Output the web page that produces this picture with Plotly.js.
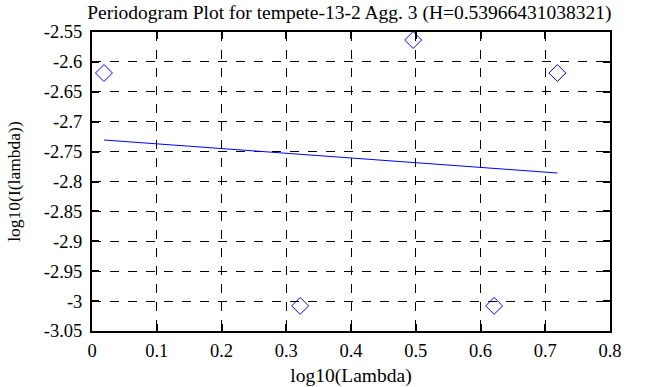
<!DOCTYPE html>
<html><head><meta charset="utf-8">
<script src="https://cdn.plot.ly/plotly-3.0.1.min.js"></script>
<style>html,body{margin:0;padding:0;background:#fff}#c{width:663px;height:387px}</style>
</head><body><div id="c"></div>
<script>
const pointX = [0.0185, 0.3215, 0.496, 0.621, 0.7187];
const pointY = [-2.6186, -3.008, -2.5634, -3.008, -2.6186];
const fitX = [0.0185, 0.7187];
const fitY = [-2.7306, -2.7858];
const xTickVals = [0, 0.1, 0.2, 0.3, 0.4, 0.5, 0.6, 0.7, 0.8];
const xTickText = ["0", "0.1", "0.2", "0.3", "0.4", "0.5", "0.6", "0.7", "0.8"];
const yTickVals = [-3.05, -3, -2.95, -2.9, -2.85, -2.8, -2.75, -2.7, -2.65, -2.6, -2.55];
const yTickText = ["-3.05", "-3", "-2.95", "-2.9", "-2.85", "-2.8", "-2.75", "-2.7", "-2.65", "-2.6", "-2.55"];
const titleText = "Periodogram Plot for tempete-13-2 Agg. 3 (H=0.53966431038321)";

const fam = "Liberation Serif";
function f(size) { return {family: fam, size: size, color: "#000"}; }
const axisCommon = {
  showline: true, linecolor: "#000", linewidth: 2, mirror: "ticks",
  ticks: "inside", ticklen: 7, tickwidth: 2, tickcolor: "#000",
  showgrid: true, gridcolor: "#000", griddash: "dash", gridwidth: 1,
  zeroline: false, tickmode: "array"
};
const data = [
  {x: pointX, y: pointY, mode: "markers", type: "scatter",
   marker: {symbol: "diamond-open", size: 13, color: "#0000ff", line: {width: 1, color: "#0000ff"}}},
  {x: fitX, y: fitY, mode: "lines", type: "scatter", line: {color: "#0000ff", width: 1}}
];
const layout = {
  width: 663, height: 387, showlegend: false,
  paper_bgcolor: "#fff", plot_bgcolor: "#fff",
  margin: {l: 92, r: 53, t: 32, b: 56},
  font: f(18),
  title: {text: titleText, font: f(19.5), x: 0.527, xanchor: "center", y: 0.985, yanchor: "top"},
  xaxis: Object.assign({}, axisCommon, {range: [0, 0.8], tickvals: xTickVals, ticktext: xTickText,
    tickfont: f(18.5), ticklabelstandoff: 2,
    title: {text: "log10(Lambda)", font: f(19.5), standoff: 8}}),
  yaxis: Object.assign({}, axisCommon, {range: [-3.05, -2.55], tickvals: yTickVals, ticktext: yTickText,
    tickfont: f(18.5), ticklabelstandoff: 4,
    title: {text: "log10(I(lambda))", font: f(17.5), standoff: 19}})
};
Plotly.newPlot("c", data, layout, {displayModeBar: false, staticPlot: true});
</script></body></html>
